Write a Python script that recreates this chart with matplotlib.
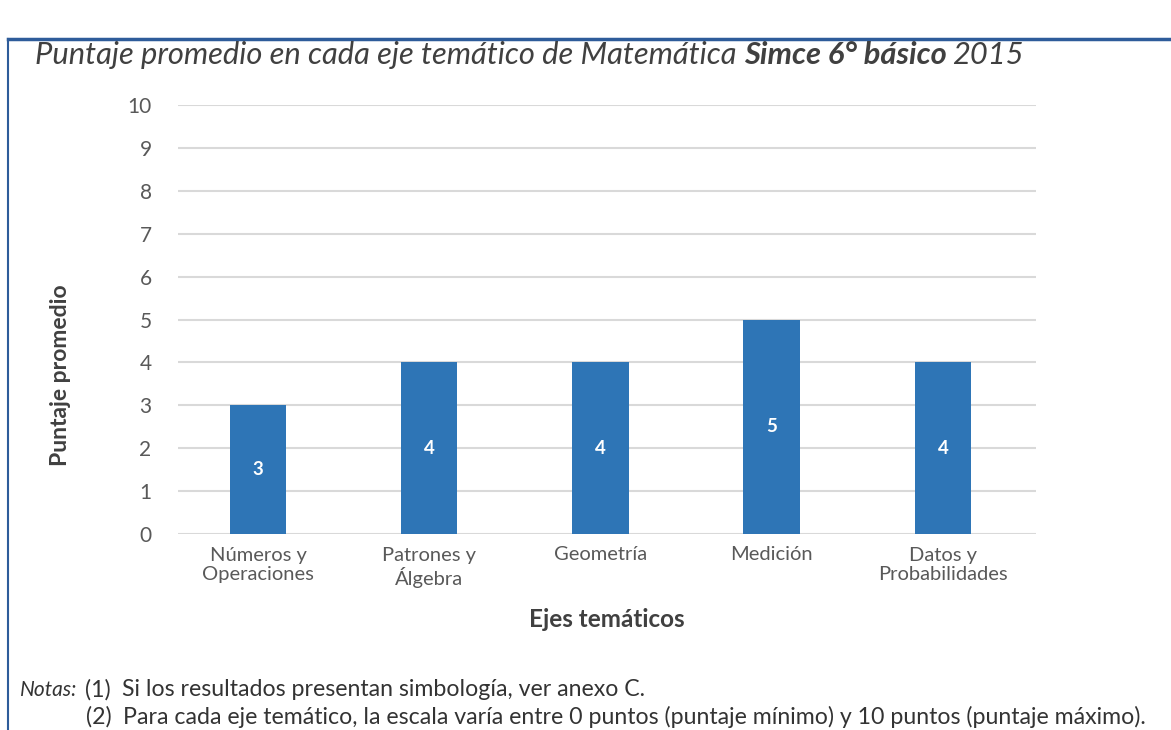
import matplotlib
matplotlib.use("Agg")
import matplotlib.pyplot as plt
from matplotlib.lines import Line2D

categories = ["Números y\nOperaciones", "Patrones y\nÁlgebra", "Geometría", "Medición", "Datos y\nProbabilidades"]
values = [3, 4, 4, 5, 4]
yticks = list(range(0, 11))

plt.rcParams['font.family'] = ['Lato', 'DejaVu Sans']

W, H = 1171, 730
fig = plt.figure(figsize=(W/100, H/100), dpi=100)
ax = fig.add_axes([178/W, 196/H, (1036-178)/W, (534-105)/H])

x = list(range(len(categories)))
ax.bar(x, values, width=0.33, color="#2E75B6", zorder=3)
for xi, v in zip(x, values):
    ax.text(xi, v/2, str(v), ha="center", va="center", color="white",
            fontsize=13.5, fontweight="bold", zorder=4)

ax.set_xlim(-0.467, 4.543)
ax.set_ylim(0, 10)
ax.set_yticks(yticks)
ax.set_xticks(x)
ax.set_xticklabels(categories, fontsize=14.5, color="#595959", linespacing=1.2)
ax.tick_params(axis="y", labelsize=15, labelcolor="#595959", length=0, pad=19)
ax.tick_params(axis="x", length=0, pad=9)
ax.grid(axis="y", color="#D9D9D9", linewidth=1.5, zorder=0)
for s in ax.spines.values():
    s.set_visible(False)

ax.set_ylabel("Puntaje promedio", fontsize=16.5, fontweight="bold", color="#404040")
ax.yaxis.set_label_coords((71-178)/858, (534-375)/429)
ax.set_xlabel("Ejes temáticos", fontsize=17.5, fontweight="bold", color="#404040", labelpad=14)

# title composed of italic and bold-italic parts
ty = 1 - 55/H
t1 = fig.text(35/W, ty, "Puntaje promedio en cada eje temático de Matemática ",
              fontsize=22.2, style="italic", color="#404040", va="center", ha="left")
fig.canvas.draw()
bb = t1.get_window_extent()
t2 = fig.text(bb.x1/W, ty, "Simce 6° básico", fontsize=22.2, style="italic",
              fontweight="bold", color="#404040", va="center", ha="left")
fig.canvas.draw()
bb2 = t2.get_window_extent()
fig.text(bb2.x1/W + 6/W, ty, "2015", fontsize=22.2, style="italic",
         color="#404040", va="center", ha="left")

# notes
fs = 16.7
fig.text(20/W, 1-690/H, "Notas:", fontsize=15, style="italic", color="#333333", va="center")
fig.text(85/W, 1-690/H, "(1)", fontsize=fs, color="#333333", va="center")
fig.text(122/W, 1-690/H, "Si los resultados presentan simbología, ver anexo C.", fontsize=fs,
         color="#333333", va="center")
fig.text(86/W, 1-717/H, "(2)", fontsize=fs, color="#333333", va="center")
fig.text(123/W, 1-717/H,
         "Para cada eje temático, la escala varía entre 0 puntos (puntaje mínimo) y 10 puntos (puntaje máximo).",
         fontsize=fs, color="#333333", va="center")

# frame lines
fig.add_artist(Line2D([8/W, 1], [1-39/H, 1-39/H], color="#2E5C9A", linewidth=2.5,
                      transform=fig.transFigure))
fig.add_artist(Line2D([8/W, 8/W], [1-39/H, 0], color="#2E5C9A", linewidth=1.5,
                      transform=fig.transFigure))

fig.savefig("out.png", dpi=100)
